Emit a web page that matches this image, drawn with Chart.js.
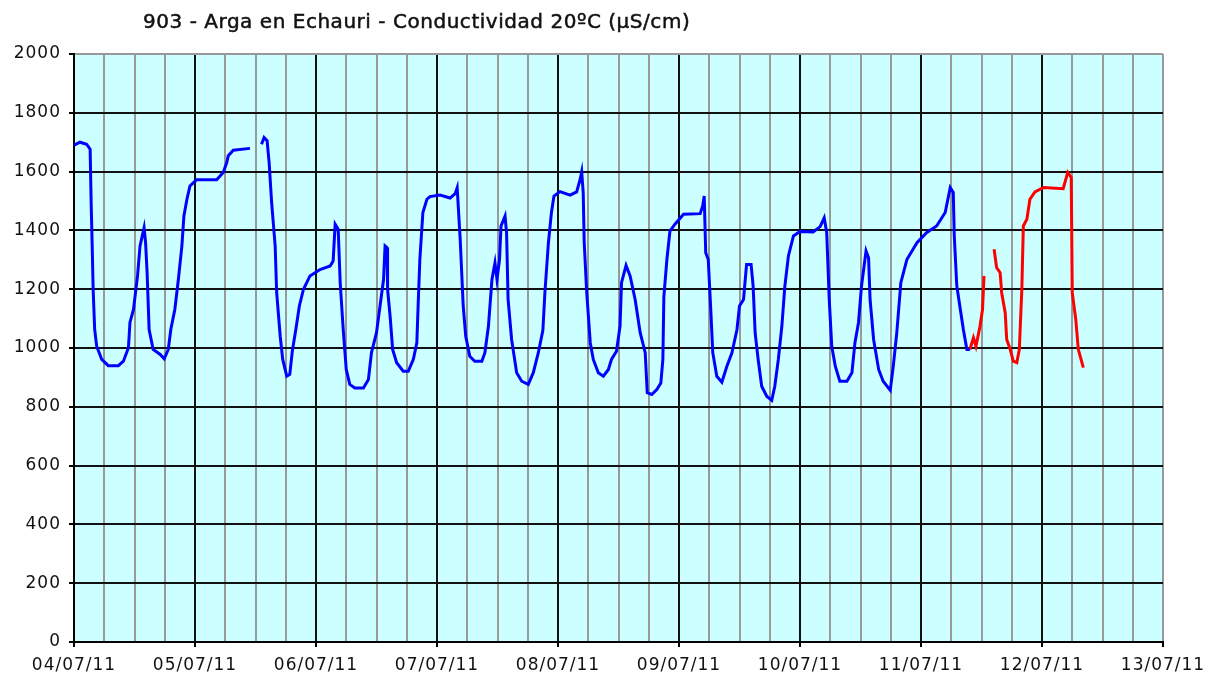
<!DOCTYPE html>
<html>
<head>
<meta charset="utf-8">
<script src="https://cdn.jsdelivr.net/npm/chart.js@4/dist/chart.umd.min.js"></script>
<style>
  html, body { margin: 0; padding: 0; background: #fff; }
  #marco { position: relative; width: 1221px; height: 682px; }
  #titulo {
    position: absolute; left: 143px; top: 9px; margin: 0;
    font: normal 20px "DejaVu Sans", Verdana, sans-serif; color: #111; white-space: nowrap;
    -webkit-text-stroke: 0.5px #111;
  }
</style>
</head>
<body>
<div id="marco">
  <h1 id="titulo">903 - Arga en Echauri - Conductividad 20ºC (µS/cm)</h1>
  <canvas id="graficoDatos" width="1221" height="682"></canvas>
</div>
<script>
// Etiquetas de fecha (una por día) y marcas del eje Y
const fechas = ['04/07/11', '05/07/11', '06/07/11', '07/07/11', '08/07/11', '09/07/11', '10/07/11', '11/07/11', '12/07/11', '13/07/11'];
const ticksY = [0, 200, 400, 600, 800, 1000, 1200, 1400, 1600, 1800, 2000];

// Serie validada (azul): horas desde 04/07/11 00:00 y conductividad
const horasAzul = [0.0, 1.2, 2.5, 3.2, 3.4, 3.6, 3.8, 4.1, 4.5, 5.5, 6.8, 8.8, 9.8, 10.8, 11.1, 11.8, 12.6, 13.1, 13.9, 14.2, 14.5, 14.9, 15.7, 17.1, 17.9, 18.7, 19.2, 20.0, 20.7, 21.4, 21.8, 22.4, 23.0, 24.3, 28.3, 29.6, 30.3, 30.6, 31.6, 34.9,
  36.0,
  37.2, 37.7, 38.3, 38.7, 39.2, 39.9, 40.2, 40.9, 41.4, 42.2, 42.8, 43.3, 44.0, 44.7, 45.5, 46.8, 48.8, 50.8, 51.4, 51.8, 52.4, 52.8, 53.4, 54.0, 54.7, 55.7, 57.4, 58.4, 59.0, 60.0, 60.7, 61.4, 61.7, 62.1, 62.2, 62.7, 63.2, 64.0, 65.3, 66.3, 67.3, 68.0, 68.3, 68.6, 69.2, 70.0,
  70.6, 72.6, 74.6, 75.6, 76.0, 76.6, 77.2, 77.7, 78.5, 79.5, 80.9, 81.5, 82.2, 82.9, 83.5, 83.9, 84.4, 84.7, 85.5, 85.8, 86.1, 86.8, 87.8, 88.8, 90.1, 91.1, 92.1, 93.0, 93.4, 94.1, 94.7, 95.2, 96.4, 98.4, 99.7, 100.4, 100.7, 101.0, 101.2, 101.7, 102.4, 103.0, 104.0, 105.0, 106.0, 106.6, 107.6, 108.3, 108.6, 109.5, 110.3, 111.3, 112.3, 113.3, 113.7, 114.6, 115.6, 116.4, 116.8, 117.0, 117.6, 118.2, 119.2, 120.9, 124.2, 124.7, 125.0, 125.3, 125.8, 126.3, 126.7, 127.5, 128.5, 129.5, 130.5, 131.5, 132.0, 132.8, 133.4, 134.3, 134.7, 135.1, 135.7, 136.4, 137.4, 138.4, 139.0, 139.7, 140.4, 141.0, 141.7, 142.7, 144.0, 146.6, 148.0, 148.8, 149.3, 149.8, 150.3, 151.0, 151.9, 153.3, 154.3, 154.9, 155.6, 156.2, 157.1, 157.6, 157.9, 158.6, 159.6, 160.5, 161.9, 162.5, 163.2, 164.0, 165.2, 167.2, 169.1, 171.1, 172.8, 173.8, 174.4, 174.6, 175.1, 175.7, 176.4, 177.1, 177.7];
const valoresAzul = [1690, 1700, 1693, 1676, 1496, 1353, 1199, 1063, 1006, 961, 940, 940, 955, 1001, 1087, 1131, 1245, 1347, 1409, 1358, 1256, 1063, 995, 978, 963, 995, 1063, 1131, 1233, 1347, 1449, 1506, 1551, 1572, 1572, 1597, 1631, 1654, 1673, 1679,
  null,
  1693, 1716, 1705, 1631, 1495, 1347, 1188, 1040, 961, 904, 910, 989, 1063, 1143, 1199, 1245, 1267, 1279, 1296, 1421, 1404, 1222, 1063, 927, 876, 864, 864, 893, 984, 1052, 1143, 1233, 1347, 1341, 1199, 1108, 995, 950, 921, 921, 961, 1018, 1165, 1301, 1461, 1506,
  1515, 1520, 1510, 1525, 1545, 1370, 1143, 1040, 972, 955, 955, 984, 1074, 1233, 1290, 1233, 1301, 1415, 1449, 1392, 1165, 1029, 916, 887, 876, 916, 984, 1060, 1188, 1358, 1461, 1517, 1532, 1520, 1531, 1574, 1599, 1529, 1358, 1188, 1018, 961, 916, 904, 927, 961, 989, 1074, 1222, 1281, 1245, 1165, 1052, 984, 848, 842, 859, 881, 961, 1176, 1301, 1398, 1421, 1455, 1457, 1483, 1517, 1324, 1301, 1131, 984, 904, 884, 938, 984, 1063, 1143, 1165, 1284, 1284, 1211, 1052, 961, 870, 836, 822, 870, 961, 1074, 1211, 1313, 1381, 1396, 1395, 1413, 1443, 1392, 1165, 1006, 938, 887, 887, 916, 1018, 1086, 1211, 1330, 1307, 1165, 1029, 927, 887, 856, 938, 1052, 1222, 1301, 1358, 1392, 1415, 1461, 1546, 1529, 1381, 1211, 1143, 1063, 995, 995];

// Serie provisional (roja)
const horasRojo = [177.7, 178.4, 178.9, 179.7, 180.2, 180.5, 181.5, 182.5, 183.0, 183.7, 184.0, 184.7, 185.0, 185.7, 186.3, 187.0, 187.5, 188.0, 188.3, 189.0, 189.6, 190.6, 192.3, 196.2, 197.1, 197.8, 198.0, 198.7, 199.2, 200.2];
const valoresRojo = [995, 1035, 1006, 1074, 1131, 1245, null, 1336, 1273, 1256, 1188, 1120, 1029, 995, 955, 950, 995, 1199, 1415, 1438, 1506, 1531, 1546, 1542, 1597, 1580, 1188, 1097, 995, 933];

const aPuntos = (hs, vs) => hs.map((h, i) => ({ x: h, y: vs[i] }));

// Ajustar el título al ancho del original
const titulo = document.getElementById('titulo');
const extra = (547 - titulo.getBoundingClientRect().width) / titulo.textContent.length;
titulo.style.letterSpacing = extra.toFixed(2) + 'px';

// Fondo celeste del área de trazado y espaciado de letras de los ejes
const fondoPlugin = {
  id: 'fondo',
  beforeUpdate(chart) { chart.ctx.letterSpacing = '1px'; },
  beforeDraw(chart) {
    const a = chart.chartArea, ctx = chart.ctx;
    ctx.letterSpacing = '1px';
    ctx.save();
    ctx.fillStyle = '#CCFFFF';
    ctx.fillRect(a.left, a.top, a.right - a.left, a.bottom - a.top);
    ctx.restore();
  }
};

const fuente = { family: '"DejaVu Sans", Verdana, sans-serif', size: 17 };

const ctx = document.getElementById('graficoDatos').getContext('2d');
const myChart = new Chart(ctx, {
  type: 'line',
  data: {
    datasets: [{
      label: 'Validado',
      data: aPuntos(horasAzul, valoresAzul),
      borderColor: '#0000FF',
      borderWidth: 3,
      pointRadius: 0,
      tension: 0,
      spanGaps: false
    }, {
      label: 'Provisional',
      data: aPuntos(horasRojo, valoresRojo),
      borderColor: '#FF0000',
      borderWidth: 3,
      pointRadius: 0,
      tension: 0,
      spanGaps: false
    }]
  },
  options: {
    responsive: false,
    animation: false,
    layout: { padding: { top: 54, right: 58, left: 0, bottom: 0 } },
    plugins: { legend: { display: false }, tooltip: { enabled: false } },
    scales: {
      x: {
        type: 'linear', min: 0, max: 216,
        afterBuildTicks(scale) {
          const t = [];
          for (let h = 0; h <= 216; h += 6) t.push({ value: h });
          scale.ticks = t;
        },
        afterFit(scale) { scale.height = 40; },
        ticks: {
          autoSkip: false, maxRotation: 0, padding: 8, color: '#111', font: fuente,
          callback: v => (v % 24 === 0 ? fechas[v / 24] : '')
        },
        grid: {
          color: c => (c.tick && c.tick.value % 24 === 0 && c.tick.value < 216 ? '#111' : '#999999'),
          tickColor: c => (c.tick && c.tick.value % 24 === 0 ? '#000' : 'rgba(0,0,0,0)'),
          tickLength: 5, lineWidth: 2
        },
        border: { color: '#000', width: 2 }
      },
      y: {
        min: 0, max: 2000,
        afterBuildTicks(scale) { scale.ticks = ticksY.map(v => ({ value: v })); },
        afterFit(scale) { scale.width = 74; },
        ticks: { padding: 8, color: '#111', font: fuente, callback: v => String(v) },
        grid: {
          color: c => (c.tick && c.tick.value === 2000 ? '#999999' : '#111'),
          tickColor: '#000', tickLength: 5, lineWidth: 2
        },
        border: { color: '#000', width: 2 }
      }
    }
  },
  plugins: [fondoPlugin]
});
</script>
</body>
</html>
